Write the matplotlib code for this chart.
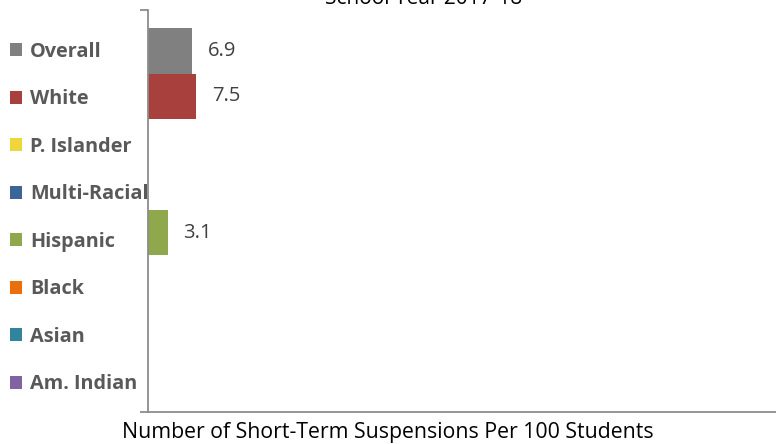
import matplotlib.pyplot as plt
from matplotlib.patches import Patch

# ---- data ----
groups = ['Overall', 'White', 'P. Islander', 'Multi-Racial',
          'Hispanic', 'Black', 'Asian', 'Am. Indian']
values = [6.9, 7.5, None, None, 3.1, None, None, None]
colors = ['#808080', '#A8413D', '#EFD73B', '#3B6497',
          '#8EA84B', '#EA6E0A', '#31849B', '#8064A2']

title = 'School Year 2017-18'
xlabel = 'Number of Short-Term Suspensions Per 100 Students'

plt.rcParams['font.family'] = ['Open Sans', 'DejaVu Sans']

W, H = 776, 444
fig = plt.figure(figsize=(W / 100, H / 100), dpi=100)
ax = fig.add_axes([148 / W, 1 - 412 / H, 1 - 148 / W, 402 / H])

# ---- bars ----
for i, (v, c) in enumerate(zip(values, colors)):
    if v is None:
        continue
    ax.barh(i, v, height=1.0, color=c, edgecolor='none')
    ax.text(v + 2.4, i, '%.1f' % v, va='center', ha='left',
            fontsize=14.5, color='#404040')

ax.set_xlim(0, 97.4)
ax.set_ylim(7.94, -0.896)

# ---- axes ----
for s in ['top', 'right']:
    ax.spines[s].set_visible(False)
for s in ['left', 'bottom']:
    ax.spines[s].set_color('#8C8C8C')
    ax.spines[s].set_linewidth(1.3)
ax.set_xticks([])
ax.set_yticks([-0.896, 7.94])
ax.set_yticklabels([])
ax.tick_params(axis='y', length=6, color='#8C8C8C', width=1.3)

# ---- legend on the left ----
handles = [Patch(facecolor=c, edgecolor='none') for c in colors]
leg = fig.legend(handles, groups, loc='center left',
                 bbox_to_anchor=(10 / W, 1 - 218 / H),
                 frameon=False, borderpad=0, borderaxespad=0,
                 handlelength=0.6, handleheight=0.6, handletextpad=0.4,
                 labelspacing=1.385, prop={'size': 14.3, 'weight': 'bold'})
for t in leg.get_texts():
    t.set_color('#595959')

# ---- texts ----
fig.text(424 / W, 1 - 4 / H, title, ha='center', va='baseline',
         fontsize=15, color='black')
fig.text(388 / W, 1 - 438 / H, xlabel, ha='center', va='baseline',
         fontsize=15.3, color='black')

fig.savefig('out.png', dpi=100)
